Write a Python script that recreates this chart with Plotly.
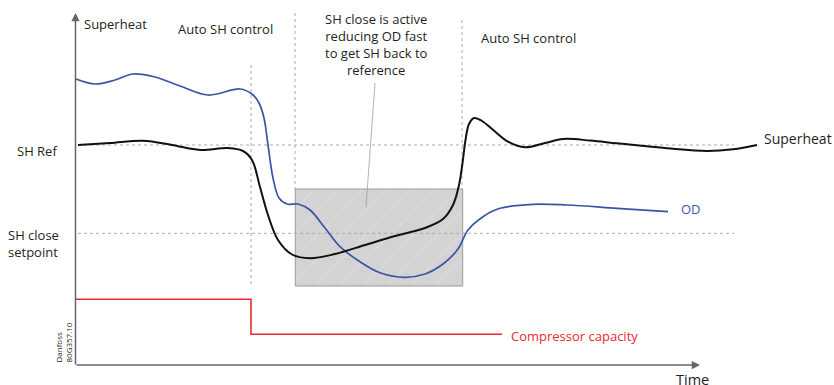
import plotly.graph_objects as go

# Schematic time axis and signal levels (same units as the drawing area)
sh_time = [78, 110, 143, 172, 200, 228, 243, 252, 260, 268, 278, 292, 310, 335, 365,
           395, 425, 443, 453, 459, 462.5, 465.5, 469, 474, 482, 495, 508, 525, 545, 563,
           590, 617, 667, 707, 733, 757]
superheat = [145, 143, 140.7, 145, 150, 148, 151, 160, 187, 215, 240, 254.5, 258.3, 254, 245,
             236, 228, 219, 205, 185, 163, 140, 124, 118, 121, 131.5, 141.7, 147.3, 143, 139,
             140.5, 143.3, 148.3, 151, 149.3, 145]

od_time = [76, 95, 115, 133, 155, 180, 208, 240, 252, 259, 264, 268, 273, 279, 287, 298,
           310, 325, 340, 360, 380, 405, 425, 443, 458, 468, 483, 500, 533, 567, 617, 668]
od = [79, 84, 80, 74, 77, 86, 95, 89, 94, 103, 118, 145, 178, 198, 204, 204,
      210, 228, 246.7, 261.7, 272.7, 277.3, 274, 264, 249, 230, 216.7, 208.3, 204.3, 205, 208.3, 211.7]

comp_time = [76, 251, 502]
comp_capacity = [299.3, 334.3, 334.3]

sh_ref_level = 145
sh_close_level = 233.3
phase_bounds = [251, 295, 462]
sh_close_window = [295.3, 462.7, 189, 286]   # t0, t1, top, bottom

INK = "#231f20"
FONT = "Open Sans"
GRID = "#ababab"

fig = go.Figure()

# SH close active window (hatched grey block)
t0, t1, top, bot = sh_close_window
fig.add_trace(go.Scatter(
    x=[t0, t1, t1, t0, t0], y=[top, top, bot, bot, top],
    mode="lines", fill="toself", fillcolor="#d4d4d4",
    fillpattern=dict(shape="/", fgcolor="#dfdfdf", bgcolor="#d3d3d3", size=17, solidity=0.12),
    line=dict(color="#9a9a9a", width=1), hoverinfo="skip"))

# reference levels
for lvl in (sh_ref_level, sh_close_level):
    fig.add_trace(go.Scatter(x=[78, 734], y=[lvl, lvl], mode="lines",
                             line=dict(color=GRID, width=1, dash="3px,3px"), hoverinfo="skip"))

# phase boundaries
for bx, y0, y1 in ((phase_bounds[0], 65, 286), (phase_bounds[1], 13, 189), (phase_bounds[2], 20, 189)):
    fig.add_trace(go.Scatter(x=[bx, bx], y=[y0, y1], mode="lines",
                             line=dict(color=GRID, width=1, dash="3px,3px"), hoverinfo="skip"))

# callout leader
fig.add_trace(go.Scatter(x=[375, 366], y=[83, 207], mode="lines",
                         line=dict(color="#a0a0a0", width=0.8), hoverinfo="skip"))

# curves
fig.add_trace(go.Scatter(x=comp_time, y=comp_capacity, mode="lines",
                         line=dict(color="#ea2a2f", width=1.6, shape="hv"), hoverinfo="skip"))
fig.add_trace(go.Scatter(x=od_time, y=od, mode="lines",
                         line=dict(color="#3a55a6", width=1.7, shape="spline", smoothing=1.0),
                         hoverinfo="skip"))
fig.add_trace(go.Scatter(x=sh_time, y=superheat, mode="lines",
                         line=dict(color="#111111", width=2, shape="spline", smoothing=1.0),
                         hoverinfo="skip"))

# axes with arrow heads
for (tx, ty, sx, sy) in ((75.5, 13, 75.5, 366), (700, 365, 75, 365)):
    fig.add_annotation(x=tx, y=ty, ax=sx, ay=sy, xref="x", yref="y", axref="x", ayref="y",
                       text="", showarrow=True, arrowhead=2, arrowsize=1.1, arrowwidth=1.5,
                       arrowcolor="#666666", standoff=0, startstandoff=0)


def label(txt, x, y, xanchor="left", size=13, color=INK, align="left", angle=0, yanchor="middle"):
    fig.add_annotation(x=x, y=y, xref="x", yref="y", text=txt, showarrow=False,
                       xanchor=xanchor, yanchor=yanchor, align=align, textangle=angle,
                       font=dict(family=FONT, size=size, color=color))


label("Superheat", 82, 24)
label("Auto SH control", 225.5, 29, xanchor="center")
label("SH close is active<br>reducing OD fast<br>to get SH back to<br>reference", 376.7, 44,
      xanchor="center", align="center")
label("Auto SH control", 528, 37.5, xanchor="center")
label("Superheat", 762, 138.5, size=14)
label("SH Ref", 37, 151, xanchor="center")
label("SH close<br>setpoint", 6, 243)
label("OD", 679, 209, color="#3a55a6")
label("Compressor capacity", 509, 335.7, color="#ea2a2f")
label("Time", 692, 379, xanchor="center", size=14.5)
label("Danfoss<br>80G357.10", 62.5, 365, xanchor="center", size=8, align="left",
      angle=-90, yanchor="bottom")

fig.update_layout(
    width=834, height=385, margin=dict(l=0, r=0, t=0, b=0),
    paper_bgcolor="white", plot_bgcolor="white", showlegend=False,
    xaxis=dict(range=[0, 834], visible=False, fixedrange=True),
    yaxis=dict(range=[385, 0], visible=False, fixedrange=True),
)

fig.write_html("out.html", config={"displayModeBar": False})
